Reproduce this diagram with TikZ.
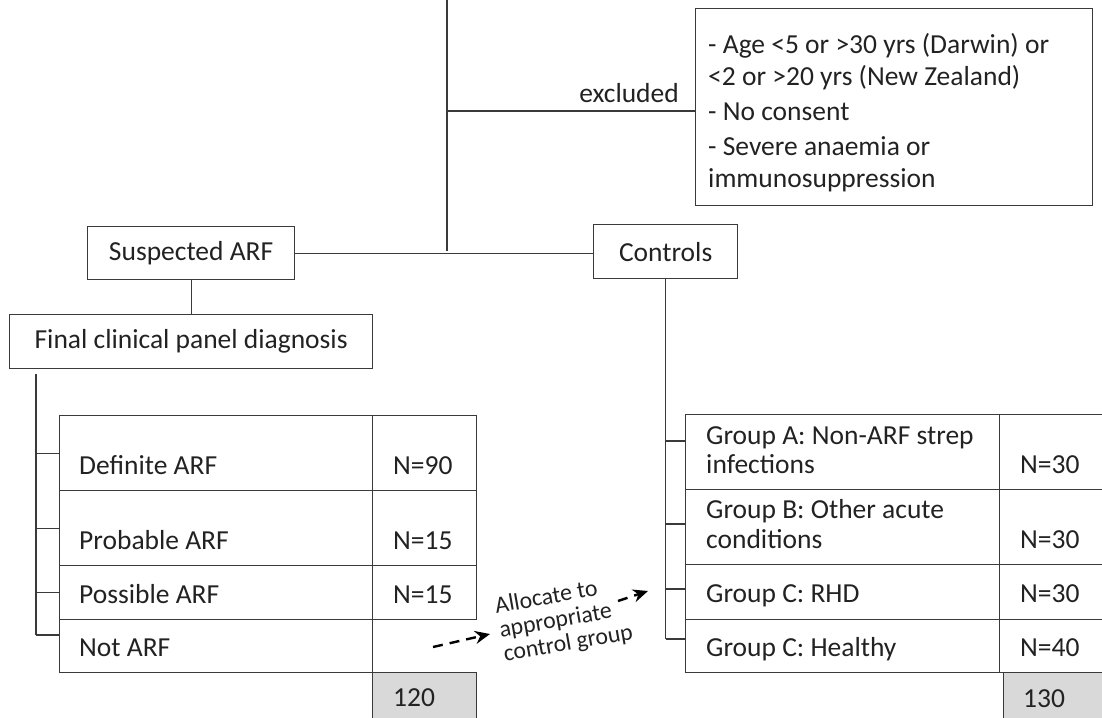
\documentclass[tikz,border=0pt]{standalone}
\usepackage{fontspec}
\setmainfont{Carlito}
\usetikzlibrary{arrows.meta}
\definecolor{ln}{HTML}{3A3A3A}
\definecolor{tx}{HTML}{222222}
\definecolor{gr}{HTML}{D9D9D9}
\begin{document}
\begin{tikzpicture}[x=1pt,y=-1pt,
  box/.style={draw=ln,line width=1.3pt,inner sep=0pt,anchor=north west},
  lbl/.style={text=tx,font=\fontsize{27.5}{33}\selectfont,inner sep=0pt},
  conn/.style={draw=ln,line width=1.3pt},
  darr/.style={draw=black,line width=2.4pt,dash pattern=on 10pt off 7pt,-{Stealth[length=15pt,width=13pt]}}]
\useasboundingbox (0,0) rectangle (1102,717);
\clip (0,0) rectangle (1102,717);
% top part
\coordinate (top) at (447,0);
\coordinate (jx) at (447,111);
\coordinate (jm) at (447,251);
\node[box,minimum width=397,minimum height=197] (excl) at (695,8) {};
\node[lbl,font=\fontsize{27.5}{32}\selectfont,anchor=west,align=left] (excltxt) at (708,113)
  {- Age <5 or >30 yrs (Darwin) or\\<2 or >20 yrs (New Zealand)\\[3pt]- No consent\\[3pt]- Severe anaemia or\\immunosuppression};
\node[lbl,anchor=base east] (exlab) at (679,102) {excluded};
\node[box,lbl,minimum width=207,minimum height=53] (susp) at (87,226) {Suspected ARF};
\node[box,lbl,minimum width=144,minimum height=54] (ctrl) at (593,224) {Controls};
\node[box,lbl,minimum width=363,minimum height=54] (final) at (9,314) {Final clinical panel diagnosis};
\draw[conn] (top) -- (jm);
\draw[conn] (jx) -- (jx -| excl.west);
\draw[conn] (susp.east) -- (susp.east -| ctrl.west);
\draw[conn] (susp.south) -- (susp.south |- final.north);
% left table
\node[box,minimum width=313,minimum height=75] (d1) at (59,415) {};
\node[box,minimum width=313,minimum height=75] (d2) at (59,490) {};
\node[box,minimum width=313,minimum height=54] (d3) at (59,565) {};
\node[box,minimum width=313,minimum height=53] (d4) at (59,619) {};
\node[box,minimum width=104,minimum height=75] (n1) at (372,415) {};
\node[box,minimum width=104,minimum height=75] (n2) at (372,490) {};
\node[box,minimum width=104,minimum height=54] (n3) at (372,565) {};
\node[box,fill=gr,minimum width=104,minimum height=70] (sum1) at (372,672) {};
\node[lbl,anchor=base west] at ([shift={(20,-17)}]d1.south west) {Definite ARF};
\node[lbl,anchor=base west] at ([shift={(20,-17)}]d2.south west) {Probable ARF};
\node[lbl,anchor=base west] at ([shift={(20,-17)}]d3.south west) {Possible ARF};
\node[lbl,anchor=base west] at ([shift={(20,-17)}]d4.south west) {Not ARF};
\node[lbl,anchor=base west] at ([shift={(21,-17)}]n1.south west) {N=90};
\node[lbl,anchor=base west] at ([shift={(21,-17)}]n2.south west) {N=15};
\node[lbl,anchor=base west] at ([shift={(21,-17)}]n3.south west) {N=15};
\node[lbl,anchor=base west] at (393,706) {120};
\coordinate (ltop) at (36,374);
\draw[conn] (ltop) -- (36,635);
\draw[conn] (ltop |- d1.west) -- (d1.west);
\draw[conn] (ltop |- d2.west) -- (d2.west);
\draw[conn] (ltop |- d3.west) -- (d3.west);
\draw[conn] (36,635) -- (d4.west |- 0,635);
% right table
\node[box,minimum width=314,minimum height=75] (c1) at (685,414) {};
\node[box,minimum width=314,minimum height=75] (c2) at (685,489) {};
\node[box,minimum width=314,minimum height=55] (c3) at (685,564) {};
\node[box,minimum width=314,minimum height=53] (c4) at (685,619) {};
\node[box,minimum width=120,minimum height=75] (m1) at (999,414) {};
\node[box,minimum width=120,minimum height=75] (m2) at (999,489) {};
\node[box,minimum width=120,minimum height=55] (m3) at (999,564) {};
\node[box,minimum width=120,minimum height=53] (m4) at (999,619) {};
\node[box,fill=gr,minimum width=120,minimum height=70] (sum2) at (1003,672) {};
\node[lbl,anchor=base west] at ([shift={(21,-46)}]c1.south west) {Group A: Non-ARF strep};
\node[lbl,anchor=base west] at ([shift={(21,-17)}]c1.south west) {infections};
\node[lbl,anchor=base west] at ([shift={(21,-47)}]c2.south west) {Group B: Other acute};
\node[lbl,anchor=base west] at ([shift={(21,-17)}]c2.south west) {conditions};
\node[lbl,anchor=base west] at ([shift={(21,-18)}]c3.south west) {Group C: RHD};
\node[lbl,anchor=base west] at ([shift={(21,-17)}]c4.south west) {Group C: Healthy};
\node[lbl,anchor=base west] at ([shift={(21,-17)}]m1.south west) {N=30};
\node[lbl,anchor=base west] at ([shift={(21,-17)}]m2.south west) {N=30};
\node[lbl,anchor=base west] at ([shift={(21,-18)}]m3.south west) {N=30};
\node[lbl,anchor=base west] at ([shift={(21,-17)}]m4.south west) {N=40};
\node[lbl,anchor=base west] at (1023,707) {130};
\draw[conn] (ctrl.south) -- (ctrl.south |- 0,639);
\draw[conn] (ctrl.south |- 0,441) -- (c1.west |- 0,441);
\draw[conn] (ctrl.south |- 0,524) -- (c2.west |- 0,524);
\draw[conn] (ctrl.south |- 0,589) -- (c3.west |- 0,589);
\draw[conn] (ctrl.south |- 0,639) -- (c4.west |- 0,639);
% allocation arrows
\node[text=tx,font=\fontsize{23.8}{24.5}\selectfont,inner sep=0pt,rotate=10,align=left] (alloc) at (564,620) {Allocate to\\appropriate\\control group};
\coordinate (a1s) at (433,647);
\coordinate (a1e) at (490,634);
\coordinate (a2s) at (618,601);
\coordinate (a2e) at (648,591);
\draw[darr] (a1s) -- (a1e);
\draw[darr] (a2s) -- (a2e);
\end{tikzpicture}
\end{document}
